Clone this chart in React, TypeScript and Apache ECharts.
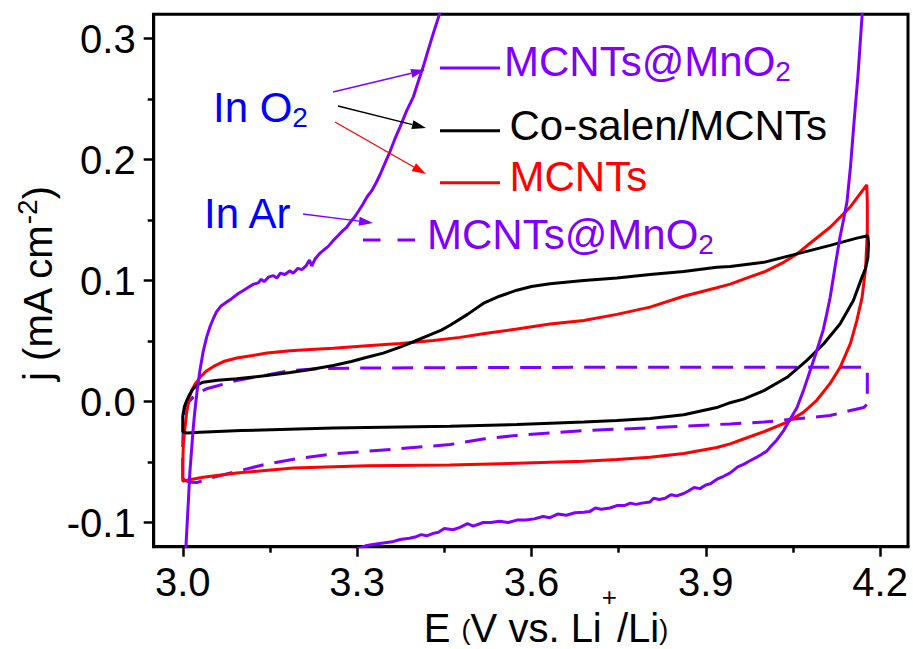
import React, { useEffect, useRef } from "react";
import * as echarts from "echarts";

const FONT = '"Liberation Sans", Arial, Helvetica, sans-serif';
const PURPLE = "#7f00ff";
const RED = "#ff0000";
const BLACK = "#000000";
const BLUE = "#0000ff";

type Pt = [number, number];

// Axis ticks
const xMajorTicks = [3.0, 3.3, 3.6, 3.9, 4.2];
const xMinorTicks = [3.15, 3.45, 3.75, 4.05];
const yMajorTicks = [-0.1, 0.0, 0.1, 0.2, 0.3];
const yMinorTicks = [-0.05, 0.05, 0.15, 0.25];

// MCNTs@MnO2 in O2 (solid purple): anodic sweep, then cathodic sweep
const mno2O2Anodic: Pt[] = [
  [3.003, -0.15], [3.006, -0.115], [3.0097, -0.082], [3.012, -0.06], [3.015, -0.041],
  [3.018, -0.022], [3.021, -0.007], [3.025, 0.01], [3.03, 0.027], [3.035, 0.041],
  [3.041, 0.053], [3.047, 0.062], [3.053, 0.069], [3.058, 0.074], [3.066, 0.079],
  [3.075, 0.082], [3.084, 0.085], [3.095, 0.089], [3.105, 0.092], [3.115, 0.095],
  [3.122, 0.097], [3.13, 0.098], [3.135, 0.101], [3.14, 0.099], [3.148, 0.103],
  [3.156, 0.104], [3.162, 0.102], [3.168, 0.106], [3.176, 0.105], [3.184, 0.108],
  [3.19, 0.106], [3.198, 0.11], [3.205, 0.109], [3.212, 0.112], [3.218, 0.117],
  [3.222, 0.112], [3.228, 0.118], [3.235, 0.122], [3.242, 0.125], [3.25, 0.128],
  [3.259, 0.133], [3.267, 0.137], [3.275, 0.141], [3.282, 0.144], [3.288, 0.148],
  [3.295, 0.152], [3.302, 0.157], [3.31, 0.163], [3.317, 0.169], [3.325, 0.174],
  [3.333, 0.181], [3.34, 0.188], [3.348, 0.197], [3.357, 0.207], [3.365, 0.217],
  [3.374, 0.227], [3.385, 0.24], [3.397, 0.252], [3.405, 0.264], [3.414, 0.277],
  [3.422, 0.29], [3.431, 0.304], [3.443, 0.322], [3.46, 0.35],
];
const mno2O2Cathodic: Pt[] = [
  [4.18, 0.4], [4.172, 0.34], [4.169, 0.319], [4.162, 0.27], [4.155, 0.23],
  [4.149, 0.194], [4.143, 0.165], [4.137, 0.15], [4.131, 0.136], [4.122, 0.11],
  [4.114, 0.086], [4.108, 0.072], [4.102, 0.059], [4.091, 0.042], [4.08, 0.026],
  [4.068, 0.009], [4.057, -0.005], [4.046, -0.014], [4.034, -0.024], [4.022, -0.032],
  [4.012, -0.037], [4.005, -0.041], [3.995, -0.044], [3.988, -0.046], [3.976, -0.049],
  [3.965, -0.052], [3.955, -0.054], [3.942, -0.059], [3.93, -0.062], [3.92, -0.064],
  [3.908, -0.068], [3.9, -0.069], [3.89, -0.072], [3.88, -0.071], [3.87, -0.074],
  [3.862, -0.076], [3.85, -0.078], [3.84, -0.077], [3.83, -0.08], [3.82, -0.081],
  [3.81, -0.08], [3.804, -0.083], [3.79, -0.084], [3.78, -0.085], [3.77, -0.084],
  [3.76, -0.086], [3.747, -0.086], [3.735, -0.088], [3.72, -0.089], [3.71, -0.088],
  [3.7, -0.091], [3.69, -0.0915], [3.675, -0.092], [3.66, -0.094], [3.645, -0.093],
  [3.632, -0.096], [3.62, -0.095], [3.605, -0.097], [3.59, -0.098], [3.575, -0.098],
  [3.56, -0.1], [3.545, -0.099], [3.53, -0.1], [3.517, -0.1], [3.5, -0.103],
  [3.49, -0.101], [3.477, -0.104], [3.465, -0.106], [3.45, -0.105], [3.44, -0.108],
  [3.431, -0.109], [3.42, -0.111], [3.41, -0.11], [3.4, -0.112], [3.39, -0.113],
  [3.374, -0.114], [3.36, -0.116], [3.345, -0.117], [3.33, -0.118], [3.317, -0.119],
  [3.305, -0.121], [3.28, -0.125],
];

// Co-salen/MCNTs in O2 (black)
const coSalenAnodic: Pt[] = [
  [3.0, -0.012], [3.003, -0.004], [3.007, 0.001], [3.012, 0.006], [3.018, 0.0105],
  [3.026, 0.014], [3.035, 0.016], [3.06, 0.0175], [3.093, 0.0188], [3.145, 0.0215],
  [3.185, 0.024], [3.22, 0.0265], [3.259, 0.0298], [3.29, 0.033], [3.317, 0.0366],
  [3.345, 0.04], [3.374, 0.045], [3.4, 0.05], [3.42, 0.054], [3.445, 0.059],
  [3.46, 0.063], [3.49, 0.072], [3.517, 0.081], [3.545, 0.087], [3.575, 0.092],
  [3.6, 0.095], [3.632, 0.0974], [3.69, 0.1], [3.747, 0.102], [3.804, 0.105],
  [3.862, 0.1075], [3.919, 0.111], [3.942, 0.1115], [4.0, 0.115], [4.057, 0.122],
  [4.114, 0.129], [4.16, 0.135], [4.179, 0.137],
];
const coSalenCathodic: Pt[] = [
  [4.18, 0.13], [4.179, 0.119], [4.175, 0.11], [4.169, 0.103], [4.154, 0.0835],
  [4.131, 0.064], [4.103, 0.0477], [4.074, 0.034], [4.04, 0.02], [4.0, 0.009],
  [3.965, 0.002], [3.942, -0.001], [3.919, -0.005], [3.862, -0.011], [3.804, -0.014],
  [3.747, -0.0157], [3.69, -0.017], [3.575, -0.019], [3.46, -0.0205], [3.259, -0.022],
  [3.1, -0.024], [3.03, -0.0254], [3.007, -0.026], [3.0, -0.025], [3.0, -0.012],
];

// MCNTs in O2 (red)
const mcntsAnodic: Pt[] = [
  [3.0, -0.052], [3.001, -0.035], [3.004, -0.021], [3.007, -0.008], [3.011, 0.002],
  [3.015, 0.009], [3.022, 0.015], [3.03, 0.02], [3.04, 0.025], [3.053, 0.029],
  [3.07, 0.033], [3.093, 0.036], [3.12, 0.038], [3.145, 0.04], [3.185, 0.042],
  [3.22, 0.043], [3.259, 0.044], [3.317, 0.046], [3.374, 0.048], [3.431, 0.0505],
  [3.477, 0.053], [3.517, 0.056], [3.575, 0.06], [3.632, 0.064], [3.69, 0.067],
  [3.747, 0.072], [3.804, 0.078], [3.862, 0.087], [3.919, 0.094], [3.942, 0.097],
  [3.976, 0.103], [4.0, 0.107], [4.034, 0.115], [4.057, 0.122], [4.08, 0.131],
  [4.114, 0.144], [4.149, 0.161], [4.177, 0.179],
];
const mcntsCathodic: Pt[] = [
  [4.178, 0.165], [4.178, 0.14], [4.175, 0.11], [4.169, 0.086], [4.16, 0.067],
  [4.149, 0.048], [4.131, 0.028], [4.114, 0.015], [4.091, 0.001], [4.068, -0.009],
  [4.04, -0.017], [4.0, -0.025], [3.965, -0.031], [3.942, -0.035], [3.919, -0.038],
  [3.862, -0.043], [3.804, -0.046], [3.747, -0.048], [3.69, -0.0494], [3.575, -0.051],
  [3.46, -0.0525], [3.317, -0.053], [3.19, -0.055], [3.093, -0.059], [3.035, -0.0626],
  [3.007, -0.065], [3.0, -0.066], [3.0, -0.052],
];

// MCNTs@MnO2 in Ar (dashed purple)
const mno2ArAnodic: Pt[] = [
  [3.0, -0.064], [3.0, -0.035], [3.001, -0.02], [3.004, -0.008], [3.009, -0.001],
  [3.018, 0.0036], [3.03, 0.008], [3.041, 0.0105], [3.06, 0.013], [3.093, 0.0174],
  [3.145, 0.022], [3.185, 0.0256], [3.23, 0.027], [3.3, 0.0276], [3.5, 0.028],
  [3.8, 0.0284], [4.0, 0.0284], [4.176, 0.0284],
];
const mno2ArCathodic: Pt[] = [
  [4.178, 0.027], [4.178, -0.002], [4.172, -0.005], [4.149, -0.0074], [4.114, -0.0116],
  [4.057, -0.0143], [4.0, -0.017], [3.942, -0.0185], [3.804, -0.0218], [3.69, -0.024],
  [3.575, -0.028], [3.517, -0.031], [3.46, -0.0356], [3.374, -0.039], [3.259, -0.0433],
  [3.2, -0.047], [3.145, -0.0516], [3.087, -0.0585], [3.05, -0.063], [3.024, -0.067],
  [3.01, -0.0665], [3.0, -0.064],
];

// x-axis title pieces: [text, font size, vertical shift of the piece]
const xTitleParts: [string, number, number][] = [
  ["E ", 40, 0],
  ["(", 27, 1.5],
  ["V vs. Li", 40, 0],
  ["+", 26, -31],
  ["/Li", 40, 0],
  [")", 27, 1.5],
];

const fmt = (v: number) => v.toFixed(1);

function measure(text: string, size: number): number {
  const ctx = document.createElement("canvas").getContext("2d");
  if (!ctx) return text.length * size * 0.55;
  ctx.font = `${size}px ${FONT}`;
  return ctx.measureText(text).width;
}

function arrow(x1: number, y1: number, x2: number, y2: number, color: string): any[] {
  const ang = Math.atan2(y2 - y1, x2 - x1);
  const len = 14;
  const half = 4.5;
  const bx = x2 - len * Math.cos(ang);
  const by = y2 - len * Math.sin(ang);
  const px = -Math.sin(ang) * half;
  const py = Math.cos(ang) * half;
  return [
    { type: "line", z: 100, shape: { x1, y1, x2: bx, y2: by }, style: { stroke: color, lineWidth: 1.3 } },
    {
      type: "polygon",
      z: 100,
      shape: { points: [[x2, y2], [bx + px, by + py], [bx - px, by - py]] },
      style: { fill: color },
    },
  ];
}

// Text with a subscript "2"
function subText(x: number, y: number, main: string, color: string): any {
  return {
    type: "text",
    z: 100,
    x,
    y,
    style: {
      text: `{m|${main}}{s|2}`,
      align: "left",
      verticalAlign: "middle",
      rich: {
        m: { fontSize: 42, fontFamily: FONT, fill: color, lineHeight: 48, verticalAlign: "middle" },
        s: { fontSize: 28, fontFamily: FONT, fill: color, lineHeight: 20, verticalAlign: "bottom" },
      },
    },
  };
}

function plainText(x: number, y: number, text: string, color: string, size = 42): any {
  return {
    type: "text",
    z: 100,
    x,
    y,
    style: {
      text,
      fontSize: size,
      fontFamily: FONT,
      fill: color,
      align: "left",
      verticalAlign: "middle",
    },
  };
}

// x-axis title laid out piece by piece (small parentheses, superscript "+")
function xTitle(centerX: number, capCenterY: number): any[] {
  const widths = xTitleParts.map(([t, s]) => measure(t, s));
  const total = widths.reduce((a, b) => a + b, 0);
  let x = centerX - total / 2;
  return xTitleParts.map(([t, s, dy], i) => {
    const el = plainText(x, capCenterY + dy, t, BLACK, s);
    x += widths[i];
    return el;
  });
}

const axisLineStyle = { color: BLACK, width: 3 };
const tickLineStyle = { color: BLACK, width: 2.5 };

function buildOption(): any {
  return {
    animation: false,
    backgroundColor: "#ffffff",
    grid: {
      left: 153.7,
      right: 5,
      top: 14.3,
      bottom: 102.3,
      show: true,
      borderColor: BLACK,
      borderWidth: 3,
      backgroundColor: "transparent",
      containLabel: false,
      outerBoundsMode: "none",
    },
    xAxis: [
      {
        type: "value",
        min: 2.95,
        max: 4.248,
        position: "bottom",
        axisLine: { show: true, onZero: false, lineStyle: axisLineStyle },
        axisTick: { show: true, inside: false, length: 10, customValues: xMajorTicks, lineStyle: tickLineStyle },
        axisLabel: {
          show: true,
          customValues: xMajorTicks,
          formatter: fmt,
          fontSize: 40,
          fontFamily: FONT,
          color: BLACK,
          margin: 15,
        },
        splitLine: { show: false },
      },
      {
        type: "value",
        min: 2.95,
        max: 4.248,
        position: "bottom",
        axisLine: { show: false, onZero: false },
        axisTick: { show: true, inside: false, length: 6, customValues: xMinorTicks, lineStyle: tickLineStyle },
        axisLabel: { show: false },
        splitLine: { show: false },
      },
    ],
    yAxis: [
      {
        type: "value",
        min: -0.12,
        max: 0.32,
        position: "left",
        axisLine: { show: true, onZero: false, lineStyle: axisLineStyle },
        axisTick: { show: true, inside: false, length: 10, customValues: yMajorTicks, lineStyle: tickLineStyle },
        axisLabel: {
          show: true,
          customValues: yMajorTicks,
          formatter: fmt,
          fontSize: 40,
          fontFamily: FONT,
          color: BLACK,
          margin: 18,
        },
        splitLine: { show: false },
      },
      {
        type: "value",
        min: -0.12,
        max: 0.32,
        position: "left",
        axisLine: { show: false, onZero: false },
        axisTick: { show: true, inside: false, length: 6, customValues: yMinorTicks, lineStyle: tickLineStyle },
        axisLabel: { show: false },
        splitLine: { show: false },
      },
    ],
    series: [
      {
        name: "MCNTs@MnO2 (Ar)",
        type: "line",
        data: [...mno2ArAnodic, ...mno2ArCathodic],
        symbol: "none",
        z: 2,
        lineStyle: { color: PURPLE, width: 3, type: [21, 11] },
      },
      {
        name: "MCNTs",
        type: "line",
        data: [...mcntsAnodic, ...mcntsCathodic],
        symbol: "none",
        z: 3,
        lineStyle: { color: RED, width: 3 },
      },
      {
        name: "Co-salen/MCNTs",
        type: "line",
        data: [...coSalenAnodic, ...coSalenCathodic],
        symbol: "none",
        z: 4,
        lineStyle: { color: BLACK, width: 3 },
      },
      {
        name: "MCNTs@MnO2 (O2)",
        type: "line",
        data: [...mno2O2Anodic, ...mno2O2Cathodic],
        symbol: "none",
        z: 5,
        lineStyle: { color: PURPLE, width: 3 },
      },
    ],
    graphic: {
      elements: [
        // legend swatches
        { type: "line", z: 100, shape: { x1: 440, y1: 68, x2: 500, y2: 68 }, style: { stroke: PURPLE, lineWidth: 3 } },
        { type: "line", z: 100, shape: { x1: 440, y1: 130.7, x2: 500, y2: 130.7 }, style: { stroke: BLACK, lineWidth: 3 } },
        { type: "line", z: 100, shape: { x1: 440, y1: 182.7, x2: 500, y2: 182.7 }, style: { stroke: RED, lineWidth: 3 } },
        {
          type: "line",
          z: 100,
          shape: { x1: 363, y1: 240, x2: 415, y2: 240 },
          style: { stroke: PURPLE, lineWidth: 3, lineDash: [17.5, 17] },
        },
        // legend labels
        subText(504, 61, "MCNTs@MnO", PURPLE),
        plainText(509.5, 125, "Co-salen/MCNTs", BLACK),
        plainText(509.5, 176.5, "MCNTs", RED),
        subText(427, 234, "MCNTs@MnO", PURPLE),
        // atmosphere notes with arrows
        subText(213, 107, "In O", BLUE),
        plainText(204, 213, "In Ar", BLUE),
        ...arrow(333, 92, 425, 70, PURPLE),
        ...arrow(338, 106, 426, 128, BLACK),
        ...arrow(335, 122, 426, 174, RED),
        ...arrow(303, 214, 373, 223, PURPLE),
        // axis titles
        ...xTitle(546, 628),
        {
          type: "text",
          z: 100,
          x: 37.5,
          y: 284,
          rotation: Math.PI / 2,
          style: {
            text: "{m|j (mA cm}{p|-2}{m|)}",
            align: "center",
            verticalAlign: "middle",
            rich: {
              m: { fontSize: 40, fontFamily: FONT, fill: BLACK, lineHeight: 48, verticalAlign: "middle" },
              p: { fontSize: 28, fontFamily: FONT, fill: BLACK, lineHeight: 24, verticalAlign: "top" },
            },
          },
        },
      ],
    },
  };
}

export default function App() {
  const ref = useRef<HTMLDivElement>(null);
  useEffect(() => {
    if (!ref.current) return;
    const chart = echarts.init(ref.current, null, { renderer: "svg" });
    chart.setOption(buildOption());
    return () => {
      chart.dispose();
    };
  }, []);
  return (
    <div
      ref={ref}
      style={{ position: "fixed", left: 0, top: 0, width: 913, height: 649, background: "#ffffff" }}
    />
  );
}
